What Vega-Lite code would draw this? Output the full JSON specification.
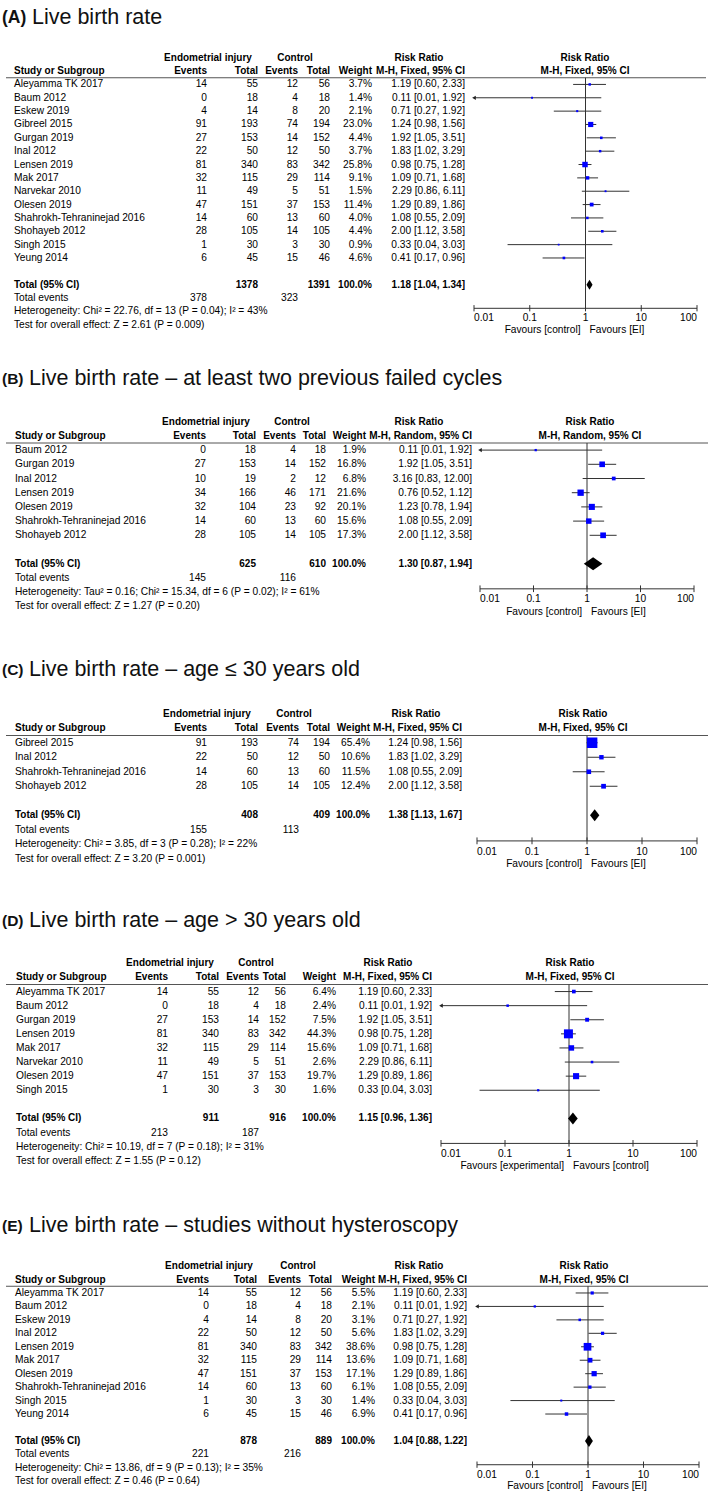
{
"$schema":"https://vega.github.io/schema/vega-lite/v6.json",
"padding":{"left":0,"top":6,"right":0,"bottom":0},
"spacing":0,
"bounds":"flush",
"resolve":{"scale":{"size":"independent","x":"independent","y":"independent"}},
"config":{"view":{"stroke":null},"axis":{"disable":true},"style":{"ta":{"font":"Liberation Sans","fontSize":10.2,"fill":"#1a1a1a"}}},
"datasets":{
"A":[
{"line":"title","t1":"(A)","t2":"Live birth rate"},
{"line":"h1","g1":"Endometrial injury","g2":"Control","rrh":"Risk Ratio","fr":"Risk Ratio"},
{"line":"h2","s":"Study or Subgroup","eev":"Events","etot":"Total","cev":"Events","ctot":"Total","w":"Weight","rr":"M-H, Fixed, 95% CI","fr":"M-H, Fixed, 95% CI"},
{"line":"Aleyamma TK 2017","s":"Aleyamma TK 2017","eev":14,"etot":55,"cev":12,"ctot":56,"w":"3.7%","rr":"1.19 [0.60, 2.33]","wt":0.037,"est":1.19,"lo":0.6,"hi":2.33},
{"line":"Baum 2012","s":"Baum 2012","eev":0,"etot":18,"cev":4,"ctot":18,"w":"1.4%","rr":"0.11 [0.01, 1.92]","wt":0.014,"est":0.11,"lo":0.01,"hi":1.92},
{"line":"Eskew 2019","s":"Eskew 2019","eev":4,"etot":14,"cev":8,"ctot":20,"w":"2.1%","rr":"0.71 [0.27, 1.92]","wt":0.021,"est":0.71,"lo":0.27,"hi":1.92},
{"line":"Gibreel 2015","s":"Gibreel 2015","eev":91,"etot":193,"cev":74,"ctot":194,"w":"23.0%","rr":"1.24 [0.98, 1.56]","wt":0.23,"est":1.24,"lo":0.98,"hi":1.56},
{"line":"Gurgan 2019","s":"Gurgan 2019","eev":27,"etot":153,"cev":14,"ctot":152,"w":"4.4%","rr":"1.92 [1.05, 3.51]","wt":0.044,"est":1.92,"lo":1.05,"hi":3.51},
{"line":"Inal 2012","s":"Inal 2012","eev":22,"etot":50,"cev":12,"ctot":50,"w":"3.7%","rr":"1.83 [1.02, 3.29]","wt":0.037,"est":1.83,"lo":1.02,"hi":3.29},
{"line":"Lensen 2019","s":"Lensen 2019","eev":81,"etot":340,"cev":83,"ctot":342,"w":"25.8%","rr":"0.98 [0.75, 1.28]","wt":0.258,"est":0.98,"lo":0.75,"hi":1.28},
{"line":"Mak 2017","s":"Mak 2017","eev":32,"etot":115,"cev":29,"ctot":114,"w":"9.1%","rr":"1.09 [0.71, 1.68]","wt":0.091,"est":1.09,"lo":0.71,"hi":1.68},
{"line":"Narvekar 2010","s":"Narvekar 2010","eev":11,"etot":49,"cev":5,"ctot":51,"w":"1.5%","rr":"2.29 [0.86, 6.11]","wt":0.015,"est":2.29,"lo":0.86,"hi":6.11},
{"line":"Olesen 2019","s":"Olesen 2019","eev":47,"etot":151,"cev":37,"ctot":153,"w":"11.4%","rr":"1.29 [0.89, 1.86]","wt":0.114,"est":1.29,"lo":0.89,"hi":1.86},
{"line":"Shahrokh-Tehraninejad 2016","s":"Shahrokh-Tehraninejad 2016","eev":14,"etot":60,"cev":13,"ctot":60,"w":"4.0%","rr":"1.08 [0.55, 2.09]","wt":0.04,"est":1.08,"lo":0.55,"hi":2.09},
{"line":"Shohayeb 2012","s":"Shohayeb 2012","eev":28,"etot":105,"cev":14,"ctot":105,"w":"4.4%","rr":"2.00 [1.12, 3.58]","wt":0.044,"est":2.0,"lo":1.12,"hi":3.58},
{"line":"Singh 2015","s":"Singh 2015","eev":1,"etot":30,"cev":3,"ctot":30,"w":"0.9%","rr":"0.33 [0.04, 3.03]","wt":0.009,"est":0.33,"lo":0.04,"hi":3.03},
{"line":"Yeung 2014","s":"Yeung 2014","eev":6,"etot":45,"cev":15,"ctot":46,"w":"4.6%","rr":"0.41 [0.17, 0.96]","wt":0.046,"est":0.41,"lo":0.17,"hi":0.96},
{"line":"tot","s":"Total (95% CI)","etot":1378,"ctot":1391,"w":"100.0%","rr":"1.18 [1.04, 1.34]","est":1.18,"lo":1.04,"hi":1.34},
{"line":"te","s":"Total events","eev":378,"cev":323},
{"line":"het","s":"Heterogeneity: Chi² = 22.76, df = 13 (P = 0.04); I² = 43%"},
{"line":"test","s":"Test for overall effect: Z = 2.61 (P = 0.009)","fav1":"Favours [control]","fav2":"Favours [EI]"},
{"line":"test","tl":"0.01","tv":0.01},{"line":"test","tl":"0.1","tv":0.1},{"line":"test","tl":"1","tv":1},{"line":"test","tl":"10","tv":10},{"line":"test","tl":"100","tv":100}
],
"B":[
{"line":"title","t1":"(B)","t2":"Live birth rate – at least two previous failed cycles"},
{"line":"h1","g1":"Endometrial injury","g2":"Control","rrh":"Risk Ratio","fr":"Risk Ratio"},
{"line":"h2","s":"Study or Subgroup","eev":"Events","etot":"Total","cev":"Events","ctot":"Total","w":"Weight","rr":"M-H, Random, 95% CI","fr":"M-H, Random, 95% CI"},
{"line":"Baum 2012","s":"Baum 2012","eev":0,"etot":18,"cev":4,"ctot":18,"w":"1.9%","rr":"0.11 [0.01, 1.92]","wt":0.019,"est":0.11,"lo":0.01,"hi":1.92},
{"line":"Gurgan 2019","s":"Gurgan 2019","eev":27,"etot":153,"cev":14,"ctot":152,"w":"16.8%","rr":"1.92 [1.05, 3.51]","wt":0.168,"est":1.92,"lo":1.05,"hi":3.51},
{"line":"Inal 2012","s":"Inal 2012","eev":10,"etot":19,"cev":2,"ctot":12,"w":"6.8%","rr":"3.16 [0.83, 12.00]","wt":0.068,"est":3.16,"lo":0.83,"hi":12.0},
{"line":"Lensen 2019","s":"Lensen 2019","eev":34,"etot":166,"cev":46,"ctot":171,"w":"21.6%","rr":"0.76 [0.52, 1.12]","wt":0.216,"est":0.76,"lo":0.52,"hi":1.12},
{"line":"Olesen 2019","s":"Olesen 2019","eev":32,"etot":104,"cev":23,"ctot":92,"w":"20.1%","rr":"1.23 [0.78, 1.94]","wt":0.201,"est":1.23,"lo":0.78,"hi":1.94},
{"line":"Shahrokh-Tehraninejad 2016","s":"Shahrokh-Tehraninejad 2016","eev":14,"etot":60,"cev":13,"ctot":60,"w":"15.6%","rr":"1.08 [0.55, 2.09]","wt":0.156,"est":1.08,"lo":0.55,"hi":2.09},
{"line":"Shohayeb 2012","s":"Shohayeb 2012","eev":28,"etot":105,"cev":14,"ctot":105,"w":"17.3%","rr":"2.00 [1.12, 3.58]","wt":0.173,"est":2.0,"lo":1.12,"hi":3.58},
{"line":"tot","s":"Total (95% CI)","etot":625,"ctot":610,"w":"100.0%","rr":"1.30 [0.87, 1.94]","est":1.3,"lo":0.87,"hi":1.94},
{"line":"te","s":"Total events","eev":145,"cev":116},
{"line":"het","s":"Heterogeneity: Tau² = 0.16; Chi² = 15.34, df = 6 (P = 0.02); I² = 61%"},
{"line":"test","s":"Test for overall effect: Z = 1.27 (P = 0.20)","fav1":"Favours [control]","fav2":"Favours [EI]"},
{"line":"test","tl":"0.01","tv":0.01},{"line":"test","tl":"0.1","tv":0.1},{"line":"test","tl":"1","tv":1},{"line":"test","tl":"10","tv":10},{"line":"test","tl":"100","tv":100}
],
"C":[
{"line":"title","t1":"(C)","t2":"Live birth rate – age ≤ 30 years old"},
{"line":"h1","g1":"Endometrial injury","g2":"Control","rrh":"Risk Ratio","fr":"Risk Ratio"},
{"line":"h2","s":"Study or Subgroup","eev":"Events","etot":"Total","cev":"Events","ctot":"Total","w":"Weight","rr":"M-H, Fixed, 95% CI","fr":"M-H, Fixed, 95% CI"},
{"line":"Gibreel 2015","s":"Gibreel 2015","eev":91,"etot":193,"cev":74,"ctot":194,"w":"65.4%","rr":"1.24 [0.98, 1.56]","wt":0.654,"est":1.24,"lo":0.98,"hi":1.56},
{"line":"Inal 2012","s":"Inal 2012","eev":22,"etot":50,"cev":12,"ctot":50,"w":"10.6%","rr":"1.83 [1.02, 3.29]","wt":0.106,"est":1.83,"lo":1.02,"hi":3.29},
{"line":"Shahrokh-Tehraninejad 2016","s":"Shahrokh-Tehraninejad 2016","eev":14,"etot":60,"cev":13,"ctot":60,"w":"11.5%","rr":"1.08 [0.55, 2.09]","wt":0.115,"est":1.08,"lo":0.55,"hi":2.09},
{"line":"Shohayeb 2012","s":"Shohayeb 2012","eev":28,"etot":105,"cev":14,"ctot":105,"w":"12.4%","rr":"2.00 [1.12, 3.58]","wt":0.124,"est":2.0,"lo":1.12,"hi":3.58},
{"line":"tot","s":"Total (95% CI)","etot":408,"ctot":409,"w":"100.0%","rr":"1.38 [1.13, 1.67]","est":1.38,"lo":1.13,"hi":1.67},
{"line":"te","s":"Total events","eev":155,"cev":113},
{"line":"het","s":"Heterogeneity: Chi² = 3.85, df = 3 (P = 0.28); I² = 22%"},
{"line":"test","s":"Test for overall effect: Z = 3.20 (P = 0.001)","fav1":"Favours [control]","fav2":"Favours [EI]"},
{"line":"test","tl":"0.01","tv":0.01},{"line":"test","tl":"0.1","tv":0.1},{"line":"test","tl":"1","tv":1},{"line":"test","tl":"10","tv":10},{"line":"test","tl":"100","tv":100}
],
"D":[
{"line":"title","t1":"(D)","t2":"Live birth rate – age > 30 years old"},
{"line":"h1","g1":"Endometrial injury","g2":"Control","rrh":"Risk Ratio","fr":"Risk Ratio"},
{"line":"h2","s":"Study or Subgroup","eev":"Events","etot":"Total","cev":"Events","ctot":"Total","w":"Weight","rr":"M-H, Fixed, 95% CI","fr":"M-H, Fixed, 95% CI"},
{"line":"Aleyamma TK 2017","s":"Aleyamma TK 2017","eev":14,"etot":55,"cev":12,"ctot":56,"w":"6.4%","rr":"1.19 [0.60, 2.33]","wt":0.064,"est":1.19,"lo":0.6,"hi":2.33},
{"line":"Baum 2012","s":"Baum 2012","eev":0,"etot":18,"cev":4,"ctot":18,"w":"2.4%","rr":"0.11 [0.01, 1.92]","wt":0.024,"est":0.11,"lo":0.01,"hi":1.92},
{"line":"Gurgan 2019","s":"Gurgan 2019","eev":27,"etot":153,"cev":14,"ctot":152,"w":"7.5%","rr":"1.92 [1.05, 3.51]","wt":0.075,"est":1.92,"lo":1.05,"hi":3.51},
{"line":"Lensen 2019","s":"Lensen 2019","eev":81,"etot":340,"cev":83,"ctot":342,"w":"44.3%","rr":"0.98 [0.75, 1.28]","wt":0.443,"est":0.98,"lo":0.75,"hi":1.28},
{"line":"Mak 2017","s":"Mak 2017","eev":32,"etot":115,"cev":29,"ctot":114,"w":"15.6%","rr":"1.09 [0.71, 1.68]","wt":0.156,"est":1.09,"lo":0.71,"hi":1.68},
{"line":"Narvekar 2010","s":"Narvekar 2010","eev":11,"etot":49,"cev":5,"ctot":51,"w":"2.6%","rr":"2.29 [0.86, 6.11]","wt":0.026,"est":2.29,"lo":0.86,"hi":6.11},
{"line":"Olesen 2019","s":"Olesen 2019","eev":47,"etot":151,"cev":37,"ctot":153,"w":"19.7%","rr":"1.29 [0.89, 1.86]","wt":0.197,"est":1.29,"lo":0.89,"hi":1.86},
{"line":"Singh 2015","s":"Singh 2015","eev":1,"etot":30,"cev":3,"ctot":30,"w":"1.6%","rr":"0.33 [0.04, 3.03]","wt":0.016,"est":0.33,"lo":0.04,"hi":3.03},
{"line":"tot","s":"Total (95% CI)","etot":911,"ctot":916,"w":"100.0%","rr":"1.15 [0.96, 1.36]","est":1.15,"lo":0.96,"hi":1.36},
{"line":"te","s":"Total events","eev":213,"cev":187},
{"line":"het","s":"Heterogeneity: Chi² = 10.19, df = 7 (P = 0.18); I² = 31%"},
{"line":"test","s":"Test for overall effect: Z = 1.55 (P = 0.12)","fav1":"Favours [experimental]","fav2":"Favours [control]"},
{"line":"test","tl":"0.01","tv":0.01},{"line":"test","tl":"0.1","tv":0.1},{"line":"test","tl":"1","tv":1},{"line":"test","tl":"10","tv":10},{"line":"test","tl":"100","tv":100}
],
"E":[
{"line":"title","t1":"(E)","t2":"Live birth rate – studies without hysteroscopy"},
{"line":"h1","g1":"Endometrial injury","g2":"Control","rrh":"Risk Ratio","fr":"Risk Ratio"},
{"line":"h2","s":"Study or Subgroup","eev":"Events","etot":"Total","cev":"Events","ctot":"Total","w":"Weight","rr":"M-H, Fixed, 95% CI","fr":"M-H, Fixed, 95% CI"},
{"line":"Aleyamma TK 2017","s":"Aleyamma TK 2017","eev":14,"etot":55,"cev":12,"ctot":56,"w":"5.5%","rr":"1.19 [0.60, 2.33]","wt":0.055,"est":1.19,"lo":0.6,"hi":2.33},
{"line":"Baum 2012","s":"Baum 2012","eev":0,"etot":18,"cev":4,"ctot":18,"w":"2.1%","rr":"0.11 [0.01, 1.92]","wt":0.021,"est":0.11,"lo":0.01,"hi":1.92},
{"line":"Eskew 2019","s":"Eskew 2019","eev":4,"etot":14,"cev":8,"ctot":20,"w":"3.1%","rr":"0.71 [0.27, 1.92]","wt":0.031,"est":0.71,"lo":0.27,"hi":1.92},
{"line":"Inal 2012","s":"Inal 2012","eev":22,"etot":50,"cev":12,"ctot":50,"w":"5.6%","rr":"1.83 [1.02, 3.29]","wt":0.056,"est":1.83,"lo":1.02,"hi":3.29},
{"line":"Lensen 2019","s":"Lensen 2019","eev":81,"etot":340,"cev":83,"ctot":342,"w":"38.6%","rr":"0.98 [0.75, 1.28]","wt":0.386,"est":0.98,"lo":0.75,"hi":1.28},
{"line":"Mak 2017","s":"Mak 2017","eev":32,"etot":115,"cev":29,"ctot":114,"w":"13.6%","rr":"1.09 [0.71, 1.68]","wt":0.136,"est":1.09,"lo":0.71,"hi":1.68},
{"line":"Olesen 2019","s":"Olesen 2019","eev":47,"etot":151,"cev":37,"ctot":153,"w":"17.1%","rr":"1.29 [0.89, 1.86]","wt":0.171,"est":1.29,"lo":0.89,"hi":1.86},
{"line":"Shahrokh-Tehraninejad 2016","s":"Shahrokh-Tehraninejad 2016","eev":14,"etot":60,"cev":13,"ctot":60,"w":"6.1%","rr":"1.08 [0.55, 2.09]","wt":0.061,"est":1.08,"lo":0.55,"hi":2.09},
{"line":"Singh 2015","s":"Singh 2015","eev":1,"etot":30,"cev":3,"ctot":30,"w":"1.4%","rr":"0.33 [0.04, 3.03]","wt":0.014,"est":0.33,"lo":0.04,"hi":3.03},
{"line":"Yeung 2014","s":"Yeung 2014","eev":6,"etot":45,"cev":15,"ctot":46,"w":"6.9%","rr":"0.41 [0.17, 0.96]","wt":0.069,"est":0.41,"lo":0.17,"hi":0.96},
{"line":"tot","s":"Total (95% CI)","etot":878,"ctot":889,"w":"100.0%","rr":"1.04 [0.88, 1.22]","est":1.04,"lo":0.88,"hi":1.22},
{"line":"te","s":"Total events","eev":221,"cev":216},
{"line":"het","s":"Heterogeneity: Chi² = 13.86, df = 9 (P = 0.13); I² = 35%"},
{"line":"test","s":"Test for overall effect: Z = 0.46 (P = 0.64)","fav1":"Favours [control]","fav2":"Favours [EI]"},
{"line":"test","tl":"0.01","tv":0.01},{"line":"test","tl":"0.1","tv":0.1},{"line":"test","tl":"1","tv":1},{"line":"test","tl":"10","tv":10},{"line":"test","tl":"100","tv":100}
]
},
"vconcat":[
{
"width":709,"height":361,
"data":{"name":"A"},
"transform":[{"fold":["t1","t2","g1","g2","rrh","fr","s","eev","etot","cev","ctot","w","rr","fav1","fav2","tl"],"as":["col","txt"]},{"filter":"isValid(datum.txt)"}],
"encoding":{"y":{"field":"line","type":"nominal","axis":null,"scale":{"type":"band","domain":["title","s1","s2","h1","h2","Aleyamma TK 2017","Baum 2012","Eskew 2019","Gibreel 2015","Gurgan 2019","Inal 2012","Lensen 2019","Mak 2017","Narvekar 2010","Olesen 2019","Shahrokh-Tehraninejad 2016","Shohayeb 2012","Singh 2015","Yeung 2014","gap","tot","te","het","test"],"range":[0,320.4],"paddingInner":0,"paddingOuter":0}}},
"layer":[
{"transform":[{"filter":"datum.col=='t1'"}],"mark":{"type":"text","font":"Liberation Sans","fontSize":17.5,"fontWeight":"bold","align":"left","fill":"#111"},"encoding":{"x":{"value":2},"text":{"field":"txt"}}},
{"transform":[{"filter":"datum.col=='t2'"}],"mark":{"type":"text","font":"Liberation Sans","fontSize":21.5,"align":"left","fill":"#111"},"encoding":{"x":{"value":32},"text":{"field":"txt"}}},
{"transform":[{"filter":"datum.col=='g1'"}],"mark":{"type":"text","style":"ta","fontWeight":"bold","fontSize":10},"encoding":{"x":{"value":208},"text":{"field":"txt"}}},
{"transform":[{"filter":"datum.col=='g2'"}],"mark":{"type":"text","style":"ta","fontWeight":"bold","fontSize":10},"encoding":{"x":{"value":295},"text":{"field":"txt"}}},
{"transform":[{"filter":"datum.col=='rrh'"}],"mark":{"type":"text","style":"ta","fontWeight":"bold","fontSize":10},"encoding":{"x":{"value":419},"text":{"field":"txt"}}},
{"transform":[{"filter":"datum.col=='fr'"}],"mark":{"type":"text","style":"ta","fontWeight":"bold","fontSize":10},"encoding":{"x":{"value":585},"text":{"field":"txt"}}},
{"transform":[{"filter":"datum.col=='s'"}],"mark":{"type":"text","style":"ta","align":"left","fontWeight":{"expr":"datum.line=='h2'||datum.line=='tot'?'bold':'normal'"},"fontSize":{"expr":"datum.line=='h2'||datum.line=='tot'?10:10.2"}},"encoding":{"x":{"value":14},"text":{"field":"txt"}}},
{"transform":[{"filter":"datum.col=='eev'"}],"mark":{"type":"text","style":"ta","align":"right","fontWeight":{"expr":"datum.line=='h2'||datum.line=='tot'?'bold':'normal'"},"fontSize":{"expr":"datum.line=='h2'||datum.line=='tot'?10:10.2"}},"encoding":{"x":{"value":207},"text":{"field":"txt"}}},
{"transform":[{"filter":"datum.col=='etot'"}],"mark":{"type":"text","style":"ta","align":"right","fontWeight":{"expr":"datum.line=='h2'||datum.line=='tot'?'bold':'normal'"},"fontSize":{"expr":"datum.line=='h2'||datum.line=='tot'?10:10.2"}},"encoding":{"x":{"value":258},"text":{"field":"txt"}}},
{"transform":[{"filter":"datum.col=='cev'"}],"mark":{"type":"text","style":"ta","align":"right","fontWeight":{"expr":"datum.line=='h2'||datum.line=='tot'?'bold':'normal'"},"fontSize":{"expr":"datum.line=='h2'||datum.line=='tot'?10:10.2"}},"encoding":{"x":{"value":298},"text":{"field":"txt"}}},
{"transform":[{"filter":"datum.col=='ctot'"}],"mark":{"type":"text","style":"ta","align":"right","fontWeight":{"expr":"datum.line=='h2'||datum.line=='tot'?'bold':'normal'"},"fontSize":{"expr":"datum.line=='h2'||datum.line=='tot'?10:10.2"}},"encoding":{"x":{"value":330},"text":{"field":"txt"}}},
{"transform":[{"filter":"datum.col=='w'"}],"mark":{"type":"text","style":"ta","align":"right","fontWeight":{"expr":"datum.line=='h2'||datum.line=='tot'?'bold':'normal'"},"fontSize":{"expr":"datum.line=='h2'||datum.line=='tot'?10:10.2"}},"encoding":{"x":{"value":372},"text":{"field":"txt"}}},
{"transform":[{"filter":"datum.col=='rr'"}],"mark":{"type":"text","style":"ta","align":"right","fontWeight":{"expr":"datum.line=='h2'||datum.line=='tot'?'bold':'normal'"},"fontSize":{"expr":"datum.line=='h2'||datum.line=='tot'?10:10.2"}},"encoding":{"x":{"value":465},"text":{"field":"txt"}}},
{"transform":[{"filter":"datum.col=='fav1'"}],"mark":{"type":"text","style":"ta","align":"right","dx":-5},"encoding":{"x":{"datum":1,"type":"quantitative"},"y":{"field":"line","type":"nominal","bandPosition":0.88},"text":{"field":"txt"}}},
{"transform":[{"filter":"datum.col=='fav2'"}],"mark":{"type":"text","style":"ta","align":"left","dx":4},"encoding":{"x":{"datum":1,"type":"quantitative"},"y":{"field":"line","type":"nominal","bandPosition":0.88},"text":{"field":"txt"}}},
{"transform":[{"filter":"datum.col=='tl'"}],"mark":{"type":"text","style":"ta","align":{"expr":"datum.tv==0.01?'left':datum.tv==100?'right':'center'"}},"encoding":{"x":{"field":"tv","type":"quantitative","scale":{"type":"log","domain":[0.01,100],"range":[474,697]}},"y":{"field":"line","type":"nominal","bandPosition":0.02},"text":{"field":"txt"}}},
{"transform":[{"filter":"datum.col=='tl'&&datum.tv==1"}],"mark":{"type":"rule","color":"#555"},"encoding":{"x":{"value":6},"x2":{"value":706},"y":{"datum":"h2","type":"nominal","bandPosition":1}}},
{"transform":[{"filter":"datum.col=='tl'&&datum.tv==1"}],"mark":{"type":"rule","color":"#333"},"encoding":{"x":{"field":"tv","type":"quantitative","scale":{"type":"log","domain":[0.01,100],"range":[474,697]}},"y":{"datum":"h2","type":"nominal","bandPosition":1},"y2":{"datum":"het","bandPosition":0.27}}},
{"transform":[{"filter":"datum.col=='tl'&&datum.tv==0.01"}],"mark":{"type":"rule","color":"#333"},"encoding":{"x":{"field":"tv","type":"quantitative","scale":{"type":"log","domain":[0.01,100],"range":[474,697]}},"x2":{"datum":100},"y":{"datum":"het","type":"nominal","bandPosition":0.27}}},
{"transform":[{"filter":"datum.col=='tl'"}],"mark":{"type":"rule","color":"#333"},"encoding":{"x":{"field":"tv","type":"quantitative","scale":{"type":"log","domain":[0.01,100],"range":[474,697]}},"y":{"datum":"het","type":"nominal","bandPosition":0.03},"y2":{"datum":"het","bandPosition":0.5}}},
{"transform":[{"filter":"datum.col=='rr'&&isValid(datum.wt)"}],"mark":{"type":"rule","color":"#333"},"encoding":{"x":{"field":"lo","type":"quantitative","scale":{"type":"log","domain":[0.01,100],"range":[474,697]}},"x2":{"field":"hi"}}},
{"transform":[{"filter":"datum.col=='rr'&&datum.lo<=0.01"}],"mark":{"type":"point","shape":"triangle-left","filled":true,"color":"#222","opacity":1,"size":18},"encoding":{"x":{"field":"lo","type":"quantitative","scale":{"type":"log","domain":[0.01,100],"range":[474,697]}}}},
{"transform":[{"filter":"datum.col=='rr'&&isValid(datum.wt)"}],"mark":{"type":"point","shape":"square","filled":true,"color":"#0000ff","opacity":1},"encoding":{"x":{"field":"est","type":"quantitative","scale":{"type":"log","domain":[0.01,100],"range":[474,697]}},"size":{"field":"wt","type":"quantitative","legend":null,"scale":{"domain":[0,1],"range":[2,110]}}}},
{"transform":[{"filter":"datum.col=='rr'&&datum.line=='tot'"}],"mark":{"type":"point","shape":"M-0.61,0L0,-1L0.61,0L0,1Z","filled":true,"color":"#000","opacity":1,"size":100},"encoding":{"x":{"field":"est","type":"quantitative","scale":{"type":"log","domain":[0.01,100],"range":[474,697]}}}}
]
},
{
"width":709,"height":291,
"data":{"name":"B"},
"transform":[{"fold":["t1","t2","g1","g2","rrh","fr","s","eev","etot","cev","ctot","w","rr","fav1","fav2","tl"],"as":["col","txt"]},{"filter":"isValid(datum.txt)"}],
"encoding":{"y":{"field":"line","type":"nominal","axis":null,"scale":{"type":"band","domain":["title","s1","s2","h1","h2","Baum 2012","Gurgan 2019","Inal 2012","Lensen 2019","Olesen 2019","Shahrokh-Tehraninejad 2016","Shohayeb 2012","gap","tot","te","het","test"],"range":[0,241.4],"paddingInner":0,"paddingOuter":0}}},
"layer":[
{"transform":[{"filter":"datum.col=='t1'"}],"mark":{"type":"text","font":"Liberation Sans","fontSize":15.5,"fontWeight":"bold","align":"left","fill":"#111"},"encoding":{"x":{"value":2},"text":{"field":"txt"}}},
{"transform":[{"filter":"datum.col=='t2'"}],"mark":{"type":"text","font":"Liberation Sans","fontSize":21.5,"align":"left","fill":"#111"},"encoding":{"x":{"value":29},"text":{"field":"txt"}}},
{"transform":[{"filter":"datum.col=='g1'"}],"mark":{"type":"text","style":"ta","fontWeight":"bold","fontSize":10},"encoding":{"x":{"value":206},"text":{"field":"txt"}}},
{"transform":[{"filter":"datum.col=='g2'"}],"mark":{"type":"text","style":"ta","fontWeight":"bold","fontSize":10},"encoding":{"x":{"value":292},"text":{"field":"txt"}}},
{"transform":[{"filter":"datum.col=='rrh'"}],"mark":{"type":"text","style":"ta","fontWeight":"bold","fontSize":10},"encoding":{"x":{"value":419},"text":{"field":"txt"}}},
{"transform":[{"filter":"datum.col=='fr'"}],"mark":{"type":"text","style":"ta","fontWeight":"bold","fontSize":10},"encoding":{"x":{"value":590},"text":{"field":"txt"}}},
{"transform":[{"filter":"datum.col=='s'"}],"mark":{"type":"text","style":"ta","align":"left","fontWeight":{"expr":"datum.line=='h2'||datum.line=='tot'?'bold':'normal'"},"fontSize":{"expr":"datum.line=='h2'||datum.line=='tot'?10:10.2"}},"encoding":{"x":{"value":15},"text":{"field":"txt"}}},
{"transform":[{"filter":"datum.col=='eev'"}],"mark":{"type":"text","style":"ta","align":"right","fontWeight":{"expr":"datum.line=='h2'||datum.line=='tot'?'bold':'normal'"},"fontSize":{"expr":"datum.line=='h2'||datum.line=='tot'?10:10.2"}},"encoding":{"x":{"value":206},"text":{"field":"txt"}}},
{"transform":[{"filter":"datum.col=='etot'"}],"mark":{"type":"text","style":"ta","align":"right","fontWeight":{"expr":"datum.line=='h2'||datum.line=='tot'?'bold':'normal'"},"fontSize":{"expr":"datum.line=='h2'||datum.line=='tot'?10:10.2"}},"encoding":{"x":{"value":256},"text":{"field":"txt"}}},
{"transform":[{"filter":"datum.col=='cev'"}],"mark":{"type":"text","style":"ta","align":"right","fontWeight":{"expr":"datum.line=='h2'||datum.line=='tot'?'bold':'normal'"},"fontSize":{"expr":"datum.line=='h2'||datum.line=='tot'?10:10.2"}},"encoding":{"x":{"value":296},"text":{"field":"txt"}}},
{"transform":[{"filter":"datum.col=='ctot'"}],"mark":{"type":"text","style":"ta","align":"right","fontWeight":{"expr":"datum.line=='h2'||datum.line=='tot'?'bold':'normal'"},"fontSize":{"expr":"datum.line=='h2'||datum.line=='tot'?10:10.2"}},"encoding":{"x":{"value":326},"text":{"field":"txt"}}},
{"transform":[{"filter":"datum.col=='w'"}],"mark":{"type":"text","style":"ta","align":"right","fontWeight":{"expr":"datum.line=='h2'||datum.line=='tot'?'bold':'normal'"},"fontSize":{"expr":"datum.line=='h2'||datum.line=='tot'?10:10.2"}},"encoding":{"x":{"value":366},"text":{"field":"txt"}}},
{"transform":[{"filter":"datum.col=='rr'"}],"mark":{"type":"text","style":"ta","align":"right","fontWeight":{"expr":"datum.line=='h2'||datum.line=='tot'?'bold':'normal'"},"fontSize":{"expr":"datum.line=='h2'||datum.line=='tot'?10:10.2"}},"encoding":{"x":{"value":472},"text":{"field":"txt"}}},
{"transform":[{"filter":"datum.col=='fav1'"}],"mark":{"type":"text","style":"ta","align":"right","dx":-5},"encoding":{"x":{"datum":1,"type":"quantitative"},"y":{"field":"line","type":"nominal","bandPosition":0.88},"text":{"field":"txt"}}},
{"transform":[{"filter":"datum.col=='fav2'"}],"mark":{"type":"text","style":"ta","align":"left","dx":4},"encoding":{"x":{"datum":1,"type":"quantitative"},"y":{"field":"line","type":"nominal","bandPosition":0.88},"text":{"field":"txt"}}},
{"transform":[{"filter":"datum.col=='tl'"}],"mark":{"type":"text","style":"ta","align":{"expr":"datum.tv==0.01?'left':datum.tv==100?'right':'center'"}},"encoding":{"x":{"field":"tv","type":"quantitative","scale":{"type":"log","domain":[0.01,100],"range":[480,694]}},"y":{"field":"line","type":"nominal","bandPosition":0.02},"text":{"field":"txt"}}},
{"transform":[{"filter":"datum.col=='tl'&&datum.tv==1"}],"mark":{"type":"rule","color":"#555"},"encoding":{"x":{"value":6},"x2":{"value":708},"y":{"datum":"h2","type":"nominal","bandPosition":1}}},
{"transform":[{"filter":"datum.col=='tl'&&datum.tv==1"}],"mark":{"type":"rule","color":"#333"},"encoding":{"x":{"field":"tv","type":"quantitative","scale":{"type":"log","domain":[0.01,100],"range":[480,694]}},"y":{"datum":"h2","type":"nominal","bandPosition":1},"y2":{"datum":"het","bandPosition":0.27}}},
{"transform":[{"filter":"datum.col=='tl'&&datum.tv==0.01"}],"mark":{"type":"rule","color":"#333"},"encoding":{"x":{"field":"tv","type":"quantitative","scale":{"type":"log","domain":[0.01,100],"range":[480,694]}},"x2":{"datum":100},"y":{"datum":"het","type":"nominal","bandPosition":0.27}}},
{"transform":[{"filter":"datum.col=='tl'"}],"mark":{"type":"rule","color":"#333"},"encoding":{"x":{"field":"tv","type":"quantitative","scale":{"type":"log","domain":[0.01,100],"range":[480,694]}},"y":{"datum":"het","type":"nominal","bandPosition":0.03},"y2":{"datum":"het","bandPosition":0.5}}},
{"transform":[{"filter":"datum.col=='rr'&&isValid(datum.wt)"}],"mark":{"type":"rule","color":"#333"},"encoding":{"x":{"field":"lo","type":"quantitative","scale":{"type":"log","domain":[0.01,100],"range":[480,694]}},"x2":{"field":"hi"}}},
{"transform":[{"filter":"datum.col=='rr'&&datum.lo<=0.01"}],"mark":{"type":"point","shape":"triangle-left","filled":true,"color":"#222","opacity":1,"size":18},"encoding":{"x":{"field":"lo","type":"quantitative","scale":{"type":"log","domain":[0.01,100],"range":[480,694]}}}},
{"transform":[{"filter":"datum.col=='rr'&&isValid(datum.wt)"}],"mark":{"type":"point","shape":"square","filled":true,"color":"#0000ff","opacity":1},"encoding":{"x":{"field":"est","type":"quantitative","scale":{"type":"log","domain":[0.01,100],"range":[480,694]}},"size":{"field":"wt","type":"quantitative","legend":null,"scale":{"domain":[0,1],"range":[2,178]}}}},
{"transform":[{"filter":"datum.col=='rr'&&datum.line=='tot'"}],"mark":{"type":"point","shape":"M-1.43,0L0,-1L1.43,0L0,1Z","filled":true,"color":"#000","opacity":1,"size":169},"encoding":{"x":{"field":"est","type":"quantitative","scale":{"type":"log","domain":[0.01,100],"range":[480,694]}}}}
]
},
{
"width":709,"height":251,
"data":{"name":"C"},
"transform":[{"fold":["t1","t2","g1","g2","rrh","fr","s","eev","etot","cev","ctot","w","rr","fav1","fav2","tl"],"as":["col","txt"]},{"filter":"isValid(datum.txt)"}],
"encoding":{"y":{"field":"line","type":"nominal","axis":null,"scale":{"type":"band","domain":["title","s1","s2","h1","h2","Gibreel 2015","Inal 2012","Shahrokh-Tehraninejad 2016","Shohayeb 2012","gap","tot","te","het","test"],"range":[0,203],"paddingInner":0,"paddingOuter":0}}},
"layer":[
{"transform":[{"filter":"datum.col=='t1'"}],"mark":{"type":"text","font":"Liberation Sans","fontSize":15.5,"fontWeight":"bold","align":"left","fill":"#111"},"encoding":{"x":{"value":2},"text":{"field":"txt"}}},
{"transform":[{"filter":"datum.col=='t2'"}],"mark":{"type":"text","font":"Liberation Sans","fontSize":21.5,"align":"left","fill":"#111"},"encoding":{"x":{"value":29},"text":{"field":"txt"}}},
{"transform":[{"filter":"datum.col=='g1'"}],"mark":{"type":"text","style":"ta","fontWeight":"bold","fontSize":10},"encoding":{"x":{"value":207},"text":{"field":"txt"}}},
{"transform":[{"filter":"datum.col=='g2'"}],"mark":{"type":"text","style":"ta","fontWeight":"bold","fontSize":10},"encoding":{"x":{"value":294},"text":{"field":"txt"}}},
{"transform":[{"filter":"datum.col=='rrh'"}],"mark":{"type":"text","style":"ta","fontWeight":"bold","fontSize":10},"encoding":{"x":{"value":416},"text":{"field":"txt"}}},
{"transform":[{"filter":"datum.col=='fr'"}],"mark":{"type":"text","style":"ta","fontWeight":"bold","fontSize":10},"encoding":{"x":{"value":583},"text":{"field":"txt"}}},
{"transform":[{"filter":"datum.col=='s'"}],"mark":{"type":"text","style":"ta","align":"left","fontWeight":{"expr":"datum.line=='h2'||datum.line=='tot'?'bold':'normal'"},"fontSize":{"expr":"datum.line=='h2'||datum.line=='tot'?10:10.2"}},"encoding":{"x":{"value":15},"text":{"field":"txt"}}},
{"transform":[{"filter":"datum.col=='eev'"}],"mark":{"type":"text","style":"ta","align":"right","fontWeight":{"expr":"datum.line=='h2'||datum.line=='tot'?'bold':'normal'"},"fontSize":{"expr":"datum.line=='h2'||datum.line=='tot'?10:10.2"}},"encoding":{"x":{"value":207},"text":{"field":"txt"}}},
{"transform":[{"filter":"datum.col=='etot'"}],"mark":{"type":"text","style":"ta","align":"right","fontWeight":{"expr":"datum.line=='h2'||datum.line=='tot'?'bold':'normal'"},"fontSize":{"expr":"datum.line=='h2'||datum.line=='tot'?10:10.2"}},"encoding":{"x":{"value":258},"text":{"field":"txt"}}},
{"transform":[{"filter":"datum.col=='cev'"}],"mark":{"type":"text","style":"ta","align":"right","fontWeight":{"expr":"datum.line=='h2'||datum.line=='tot'?'bold':'normal'"},"fontSize":{"expr":"datum.line=='h2'||datum.line=='tot'?10:10.2"}},"encoding":{"x":{"value":299},"text":{"field":"txt"}}},
{"transform":[{"filter":"datum.col=='ctot'"}],"mark":{"type":"text","style":"ta","align":"right","fontWeight":{"expr":"datum.line=='h2'||datum.line=='tot'?'bold':'normal'"},"fontSize":{"expr":"datum.line=='h2'||datum.line=='tot'?10:10.2"}},"encoding":{"x":{"value":330},"text":{"field":"txt"}}},
{"transform":[{"filter":"datum.col=='w'"}],"mark":{"type":"text","style":"ta","align":"right","fontWeight":{"expr":"datum.line=='h2'||datum.line=='tot'?'bold':'normal'"},"fontSize":{"expr":"datum.line=='h2'||datum.line=='tot'?10:10.2"}},"encoding":{"x":{"value":370},"text":{"field":"txt"}}},
{"transform":[{"filter":"datum.col=='rr'"}],"mark":{"type":"text","style":"ta","align":"right","fontWeight":{"expr":"datum.line=='h2'||datum.line=='tot'?'bold':'normal'"},"fontSize":{"expr":"datum.line=='h2'||datum.line=='tot'?10:10.2"}},"encoding":{"x":{"value":462},"text":{"field":"txt"}}},
{"transform":[{"filter":"datum.col=='fav1'"}],"mark":{"type":"text","style":"ta","align":"right","dx":-5},"encoding":{"x":{"datum":1,"type":"quantitative"},"y":{"field":"line","type":"nominal","bandPosition":0.88},"text":{"field":"txt"}}},
{"transform":[{"filter":"datum.col=='fav2'"}],"mark":{"type":"text","style":"ta","align":"left","dx":4},"encoding":{"x":{"datum":1,"type":"quantitative"},"y":{"field":"line","type":"nominal","bandPosition":0.88},"text":{"field":"txt"}}},
{"transform":[{"filter":"datum.col=='tl'"}],"mark":{"type":"text","style":"ta","align":{"expr":"datum.tv==0.01?'left':datum.tv==100?'right':'center'"}},"encoding":{"x":{"field":"tv","type":"quantitative","scale":{"type":"log","domain":[0.01,100],"range":[477,697]}},"y":{"field":"line","type":"nominal","bandPosition":0.02},"text":{"field":"txt"}}},
{"transform":[{"filter":"datum.col=='tl'&&datum.tv==1"}],"mark":{"type":"rule","color":"#555"},"encoding":{"x":{"value":6},"x2":{"value":708},"y":{"datum":"h2","type":"nominal","bandPosition":1}}},
{"transform":[{"filter":"datum.col=='tl'&&datum.tv==1"}],"mark":{"type":"rule","color":"#333"},"encoding":{"x":{"field":"tv","type":"quantitative","scale":{"type":"log","domain":[0.01,100],"range":[477,697]}},"y":{"datum":"h2","type":"nominal","bandPosition":1},"y2":{"datum":"het","bandPosition":0.27}}},
{"transform":[{"filter":"datum.col=='tl'&&datum.tv==0.01"}],"mark":{"type":"rule","color":"#333"},"encoding":{"x":{"field":"tv","type":"quantitative","scale":{"type":"log","domain":[0.01,100],"range":[477,697]}},"x2":{"datum":100},"y":{"datum":"het","type":"nominal","bandPosition":0.27}}},
{"transform":[{"filter":"datum.col=='tl'"}],"mark":{"type":"rule","color":"#333"},"encoding":{"x":{"field":"tv","type":"quantitative","scale":{"type":"log","domain":[0.01,100],"range":[477,697]}},"y":{"datum":"het","type":"nominal","bandPosition":0.03},"y2":{"datum":"het","bandPosition":0.5}}},
{"transform":[{"filter":"datum.col=='rr'&&isValid(datum.wt)"}],"mark":{"type":"rule","color":"#333"},"encoding":{"x":{"field":"lo","type":"quantitative","scale":{"type":"log","domain":[0.01,100],"range":[477,697]}},"x2":{"field":"hi"}}},
{"transform":[{"filter":"datum.col=='rr'&&isValid(datum.wt)"}],"mark":{"type":"point","shape":"square","filled":true,"color":"#0000ff","opacity":1},"encoding":{"x":{"field":"est","type":"quantitative","scale":{"type":"log","domain":[0.01,100],"range":[477,697]}},"size":{"field":"wt","type":"quantitative","legend":null,"scale":{"domain":[0,1],"range":[2,167]}}}},
{"transform":[{"filter":"datum.col=='rr'&&datum.line=='tot'"}],"mark":{"type":"point","shape":"M-0.78,0L0,-1L0.78,0L0,1Z","filled":true,"color":"#000","opacity":1,"size":144},"encoding":{"x":{"field":"est","type":"quantitative","scale":{"type":"log","domain":[0.01,100],"range":[477,697]}}}}
]
},
{
"width":709,"height":305,
"data":{"name":"D"},
"transform":[{"fold":["t1","t2","g1","g2","rrh","fr","s","eev","etot","cev","ctot","w","rr","fav1","fav2","tl"],"as":["col","txt"]},{"filter":"isValid(datum.txt)"}],
"encoding":{"y":{"field":"line","type":"nominal","axis":null,"scale":{"type":"band","domain":["title","s1","s2","h1","h2","Aleyamma TK 2017","Baum 2012","Gurgan 2019","Lensen 2019","Mak 2017","Narvekar 2010","Olesen 2019","Singh 2015","gap","tot","te","het","test"],"range":[0,253.8],"paddingInner":0,"paddingOuter":0}}},
"layer":[
{"transform":[{"filter":"datum.col=='t1'"}],"mark":{"type":"text","font":"Liberation Sans","fontSize":15.5,"fontWeight":"bold","align":"left","fill":"#111"},"encoding":{"x":{"value":2},"text":{"field":"txt"}}},
{"transform":[{"filter":"datum.col=='t2'"}],"mark":{"type":"text","font":"Liberation Sans","fontSize":21.5,"align":"left","fill":"#111"},"encoding":{"x":{"value":29},"text":{"field":"txt"}}},
{"transform":[{"filter":"datum.col=='g1'"}],"mark":{"type":"text","style":"ta","fontWeight":"bold","fontSize":10},"encoding":{"x":{"value":170},"text":{"field":"txt"}}},
{"transform":[{"filter":"datum.col=='g2'"}],"mark":{"type":"text","style":"ta","fontWeight":"bold","fontSize":10},"encoding":{"x":{"value":256},"text":{"field":"txt"}}},
{"transform":[{"filter":"datum.col=='rrh'"}],"mark":{"type":"text","style":"ta","fontWeight":"bold","fontSize":10},"encoding":{"x":{"value":388},"text":{"field":"txt"}}},
{"transform":[{"filter":"datum.col=='fr'"}],"mark":{"type":"text","style":"ta","fontWeight":"bold","fontSize":10},"encoding":{"x":{"value":570},"text":{"field":"txt"}}},
{"transform":[{"filter":"datum.col=='s'"}],"mark":{"type":"text","style":"ta","align":"left","fontWeight":{"expr":"datum.line=='h2'||datum.line=='tot'?'bold':'normal'"},"fontSize":{"expr":"datum.line=='h2'||datum.line=='tot'?10:10.2"}},"encoding":{"x":{"value":16},"text":{"field":"txt"}}},
{"transform":[{"filter":"datum.col=='eev'"}],"mark":{"type":"text","style":"ta","align":"right","fontWeight":{"expr":"datum.line=='h2'||datum.line=='tot'?'bold':'normal'"},"fontSize":{"expr":"datum.line=='h2'||datum.line=='tot'?10:10.2"}},"encoding":{"x":{"value":168},"text":{"field":"txt"}}},
{"transform":[{"filter":"datum.col=='etot'"}],"mark":{"type":"text","style":"ta","align":"right","fontWeight":{"expr":"datum.line=='h2'||datum.line=='tot'?'bold':'normal'"},"fontSize":{"expr":"datum.line=='h2'||datum.line=='tot'?10:10.2"}},"encoding":{"x":{"value":219},"text":{"field":"txt"}}},
{"transform":[{"filter":"datum.col=='cev'"}],"mark":{"type":"text","style":"ta","align":"right","fontWeight":{"expr":"datum.line=='h2'||datum.line=='tot'?'bold':'normal'"},"fontSize":{"expr":"datum.line=='h2'||datum.line=='tot'?10:10.2"}},"encoding":{"x":{"value":259},"text":{"field":"txt"}}},
{"transform":[{"filter":"datum.col=='ctot'"}],"mark":{"type":"text","style":"ta","align":"right","fontWeight":{"expr":"datum.line=='h2'||datum.line=='tot'?'bold':'normal'"},"fontSize":{"expr":"datum.line=='h2'||datum.line=='tot'?10:10.2"}},"encoding":{"x":{"value":286},"text":{"field":"txt"}}},
{"transform":[{"filter":"datum.col=='w'"}],"mark":{"type":"text","style":"ta","align":"right","fontWeight":{"expr":"datum.line=='h2'||datum.line=='tot'?'bold':'normal'"},"fontSize":{"expr":"datum.line=='h2'||datum.line=='tot'?10:10.2"}},"encoding":{"x":{"value":336},"text":{"field":"txt"}}},
{"transform":[{"filter":"datum.col=='rr'"}],"mark":{"type":"text","style":"ta","align":"right","fontWeight":{"expr":"datum.line=='h2'||datum.line=='tot'?'bold':'normal'"},"fontSize":{"expr":"datum.line=='h2'||datum.line=='tot'?10:10.2"}},"encoding":{"x":{"value":432},"text":{"field":"txt"}}},
{"transform":[{"filter":"datum.col=='fav1'"}],"mark":{"type":"text","style":"ta","align":"right","dx":-5},"encoding":{"x":{"datum":1,"type":"quantitative"},"y":{"field":"line","type":"nominal","bandPosition":0.88},"text":{"field":"txt"}}},
{"transform":[{"filter":"datum.col=='fav2'"}],"mark":{"type":"text","style":"ta","align":"left","dx":4},"encoding":{"x":{"datum":1,"type":"quantitative"},"y":{"field":"line","type":"nominal","bandPosition":0.88},"text":{"field":"txt"}}},
{"transform":[{"filter":"datum.col=='tl'"}],"mark":{"type":"text","style":"ta","align":{"expr":"datum.tv==0.01?'left':datum.tv==100?'right':'center'"}},"encoding":{"x":{"field":"tv","type":"quantitative","scale":{"type":"log","domain":[0.01,100],"range":[441,697]}},"y":{"field":"line","type":"nominal","bandPosition":0.02},"text":{"field":"txt"}}},
{"transform":[{"filter":"datum.col=='tl'&&datum.tv==1"}],"mark":{"type":"rule","color":"#555"},"encoding":{"x":{"value":6},"x2":{"value":708},"y":{"datum":"h2","type":"nominal","bandPosition":1}}},
{"transform":[{"filter":"datum.col=='tl'&&datum.tv==1"}],"mark":{"type":"rule","color":"#333"},"encoding":{"x":{"field":"tv","type":"quantitative","scale":{"type":"log","domain":[0.01,100],"range":[441,697]}},"y":{"datum":"h2","type":"nominal","bandPosition":1},"y2":{"datum":"het","bandPosition":0.27}}},
{"transform":[{"filter":"datum.col=='tl'&&datum.tv==0.01"}],"mark":{"type":"rule","color":"#333"},"encoding":{"x":{"field":"tv","type":"quantitative","scale":{"type":"log","domain":[0.01,100],"range":[441,697]}},"x2":{"datum":100},"y":{"datum":"het","type":"nominal","bandPosition":0.27}}},
{"transform":[{"filter":"datum.col=='tl'"}],"mark":{"type":"rule","color":"#333"},"encoding":{"x":{"field":"tv","type":"quantitative","scale":{"type":"log","domain":[0.01,100],"range":[441,697]}},"y":{"datum":"het","type":"nominal","bandPosition":0.03},"y2":{"datum":"het","bandPosition":0.5}}},
{"transform":[{"filter":"datum.col=='rr'&&isValid(datum.wt)"}],"mark":{"type":"rule","color":"#333"},"encoding":{"x":{"field":"lo","type":"quantitative","scale":{"type":"log","domain":[0.01,100],"range":[441,697]}},"x2":{"field":"hi"}}},
{"transform":[{"filter":"datum.col=='rr'&&datum.lo<=0.01"}],"mark":{"type":"point","shape":"triangle-left","filled":true,"color":"#222","opacity":1,"size":18},"encoding":{"x":{"field":"lo","type":"quantitative","scale":{"type":"log","domain":[0.01,100],"range":[441,697]}}}},
{"transform":[{"filter":"datum.col=='rr'&&isValid(datum.wt)"}],"mark":{"type":"point","shape":"square","filled":true,"color":"#0000ff","opacity":1},"encoding":{"x":{"field":"est","type":"quantitative","scale":{"type":"log","domain":[0.01,100],"range":[441,697]}},"size":{"field":"wt","type":"quantitative","legend":null,"scale":{"domain":[0,1],"range":[2,180]}}}},
{"transform":[{"filter":"datum.col=='rr'&&datum.line=='tot'"}],"mark":{"type":"point","shape":"M-0.81,0L0,-1L0.81,0L0,1Z","filled":true,"color":"#000","opacity":1,"size":144},"encoding":{"x":{"field":"est","type":"quantitative","scale":{"type":"log","domain":[0.01,100],"range":[441,697]}}}}
]
},
{
"width":709,"height":279,
"data":{"name":"E"},
"transform":[{"fold":["t1","t2","g1","g2","rrh","fr","s","eev","etot","cev","ctot","w","rr","fav1","fav2","tl"],"as":["col","txt"]},{"filter":"isValid(datum.txt)"}],
"encoding":{"y":{"field":"line","type":"nominal","axis":null,"scale":{"type":"band","domain":["title","s1","s2","h1","h2","Aleyamma TK 2017","Baum 2012","Eskew 2019","Inal 2012","Lensen 2019","Mak 2017","Olesen 2019","Shahrokh-Tehraninejad 2016","Singh 2015","Yeung 2014","gap","tot","te","het","test"],"range":[0,269],"paddingInner":0,"paddingOuter":0}}},
"layer":[
{"transform":[{"filter":"datum.col=='t1'"}],"mark":{"type":"text","font":"Liberation Sans","fontSize":15.5,"fontWeight":"bold","align":"left","fill":"#111"},"encoding":{"x":{"value":2},"text":{"field":"txt"}}},
{"transform":[{"filter":"datum.col=='t2'"}],"mark":{"type":"text","font":"Liberation Sans","fontSize":21.5,"align":"left","fill":"#111"},"encoding":{"x":{"value":29},"text":{"field":"txt"}}},
{"transform":[{"filter":"datum.col=='g1'"}],"mark":{"type":"text","style":"ta","fontWeight":"bold","fontSize":10},"encoding":{"x":{"value":209},"text":{"field":"txt"}}},
{"transform":[{"filter":"datum.col=='g2'"}],"mark":{"type":"text","style":"ta","fontWeight":"bold","fontSize":10},"encoding":{"x":{"value":298},"text":{"field":"txt"}}},
{"transform":[{"filter":"datum.col=='rrh'"}],"mark":{"type":"text","style":"ta","fontWeight":"bold","fontSize":10},"encoding":{"x":{"value":419},"text":{"field":"txt"}}},
{"transform":[{"filter":"datum.col=='fr'"}],"mark":{"type":"text","style":"ta","fontWeight":"bold","fontSize":10},"encoding":{"x":{"value":584},"text":{"field":"txt"}}},
{"transform":[{"filter":"datum.col=='s'"}],"mark":{"type":"text","style":"ta","align":"left","fontWeight":{"expr":"datum.line=='h2'||datum.line=='tot'?'bold':'normal'"},"fontSize":{"expr":"datum.line=='h2'||datum.line=='tot'?10:10.2"}},"encoding":{"x":{"value":15},"text":{"field":"txt"}}},
{"transform":[{"filter":"datum.col=='eev'"}],"mark":{"type":"text","style":"ta","align":"right","fontWeight":{"expr":"datum.line=='h2'||datum.line=='tot'?'bold':'normal'"},"fontSize":{"expr":"datum.line=='h2'||datum.line=='tot'?10:10.2"}},"encoding":{"x":{"value":209},"text":{"field":"txt"}}},
{"transform":[{"filter":"datum.col=='etot'"}],"mark":{"type":"text","style":"ta","align":"right","fontWeight":{"expr":"datum.line=='h2'||datum.line=='tot'?'bold':'normal'"},"fontSize":{"expr":"datum.line=='h2'||datum.line=='tot'?10:10.2"}},"encoding":{"x":{"value":257},"text":{"field":"txt"}}},
{"transform":[{"filter":"datum.col=='cev'"}],"mark":{"type":"text","style":"ta","align":"right","fontWeight":{"expr":"datum.line=='h2'||datum.line=='tot'?'bold':'normal'"},"fontSize":{"expr":"datum.line=='h2'||datum.line=='tot'?10:10.2"}},"encoding":{"x":{"value":301},"text":{"field":"txt"}}},
{"transform":[{"filter":"datum.col=='ctot'"}],"mark":{"type":"text","style":"ta","align":"right","fontWeight":{"expr":"datum.line=='h2'||datum.line=='tot'?'bold':'normal'"},"fontSize":{"expr":"datum.line=='h2'||datum.line=='tot'?10:10.2"}},"encoding":{"x":{"value":332},"text":{"field":"txt"}}},
{"transform":[{"filter":"datum.col=='w'"}],"mark":{"type":"text","style":"ta","align":"right","fontWeight":{"expr":"datum.line=='h2'||datum.line=='tot'?'bold':'normal'"},"fontSize":{"expr":"datum.line=='h2'||datum.line=='tot'?10:10.2"}},"encoding":{"x":{"value":375},"text":{"field":"txt"}}},
{"transform":[{"filter":"datum.col=='rr'"}],"mark":{"type":"text","style":"ta","align":"right","fontWeight":{"expr":"datum.line=='h2'||datum.line=='tot'?'bold':'normal'"},"fontSize":{"expr":"datum.line=='h2'||datum.line=='tot'?10:10.2"}},"encoding":{"x":{"value":467},"text":{"field":"txt"}}},
{"transform":[{"filter":"datum.col=='fav1'"}],"mark":{"type":"text","style":"ta","align":"right","dx":-5},"encoding":{"x":{"datum":1,"type":"quantitative"},"y":{"field":"line","type":"nominal","bandPosition":0.88},"text":{"field":"txt"}}},
{"transform":[{"filter":"datum.col=='fav2'"}],"mark":{"type":"text","style":"ta","align":"left","dx":4},"encoding":{"x":{"datum":1,"type":"quantitative"},"y":{"field":"line","type":"nominal","bandPosition":0.88},"text":{"field":"txt"}}},
{"transform":[{"filter":"datum.col=='tl'"}],"mark":{"type":"text","style":"ta","align":{"expr":"datum.tv==0.01?'left':datum.tv==100?'right':'center'"}},"encoding":{"x":{"field":"tv","type":"quantitative","scale":{"type":"log","domain":[0.01,100],"range":[477,699]}},"y":{"field":"line","type":"nominal","bandPosition":0.02},"text":{"field":"txt"}}},
{"transform":[{"filter":"datum.col=='tl'&&datum.tv==1"}],"mark":{"type":"rule","color":"#555"},"encoding":{"x":{"value":6},"x2":{"value":708},"y":{"datum":"h2","type":"nominal","bandPosition":1}}},
{"transform":[{"filter":"datum.col=='tl'&&datum.tv==1"}],"mark":{"type":"rule","color":"#333"},"encoding":{"x":{"field":"tv","type":"quantitative","scale":{"type":"log","domain":[0.01,100],"range":[477,699]}},"y":{"datum":"h2","type":"nominal","bandPosition":1},"y2":{"datum":"het","bandPosition":0.27}}},
{"transform":[{"filter":"datum.col=='tl'&&datum.tv==0.01"}],"mark":{"type":"rule","color":"#333"},"encoding":{"x":{"field":"tv","type":"quantitative","scale":{"type":"log","domain":[0.01,100],"range":[477,699]}},"x2":{"datum":100},"y":{"datum":"het","type":"nominal","bandPosition":0.27}}},
{"transform":[{"filter":"datum.col=='tl'"}],"mark":{"type":"rule","color":"#333"},"encoding":{"x":{"field":"tv","type":"quantitative","scale":{"type":"log","domain":[0.01,100],"range":[477,699]}},"y":{"datum":"het","type":"nominal","bandPosition":0.03},"y2":{"datum":"het","bandPosition":0.5}}},
{"transform":[{"filter":"datum.col=='rr'&&isValid(datum.wt)"}],"mark":{"type":"rule","color":"#333"},"encoding":{"x":{"field":"lo","type":"quantitative","scale":{"type":"log","domain":[0.01,100],"range":[477,699]}},"x2":{"field":"hi"}}},
{"transform":[{"filter":"datum.col=='rr'&&datum.lo<=0.01"}],"mark":{"type":"point","shape":"triangle-left","filled":true,"color":"#222","opacity":1,"size":18},"encoding":{"x":{"field":"lo","type":"quantitative","scale":{"type":"log","domain":[0.01,100],"range":[477,699]}}}},
{"transform":[{"filter":"datum.col=='rr'&&isValid(datum.wt)"}],"mark":{"type":"point","shape":"square","filled":true,"color":"#0000ff","opacity":1},"encoding":{"x":{"field":"est","type":"quantitative","scale":{"type":"log","domain":[0.01,100],"range":[477,699]}},"size":{"field":"wt","type":"quantitative","legend":null,"scale":{"domain":[0,1],"range":[2,150]}}}},
{"transform":[{"filter":"datum.col=='rr'&&datum.line=='tot'"}],"mark":{"type":"point","shape":"M-0.66,0L0,-1L0.66,0L0,1Z","filled":true,"color":"#000","opacity":1,"size":144},"encoding":{"x":{"field":"est","type":"quantitative","scale":{"type":"log","domain":[0.01,100],"range":[477,699]}}}}
]
}
]
}
